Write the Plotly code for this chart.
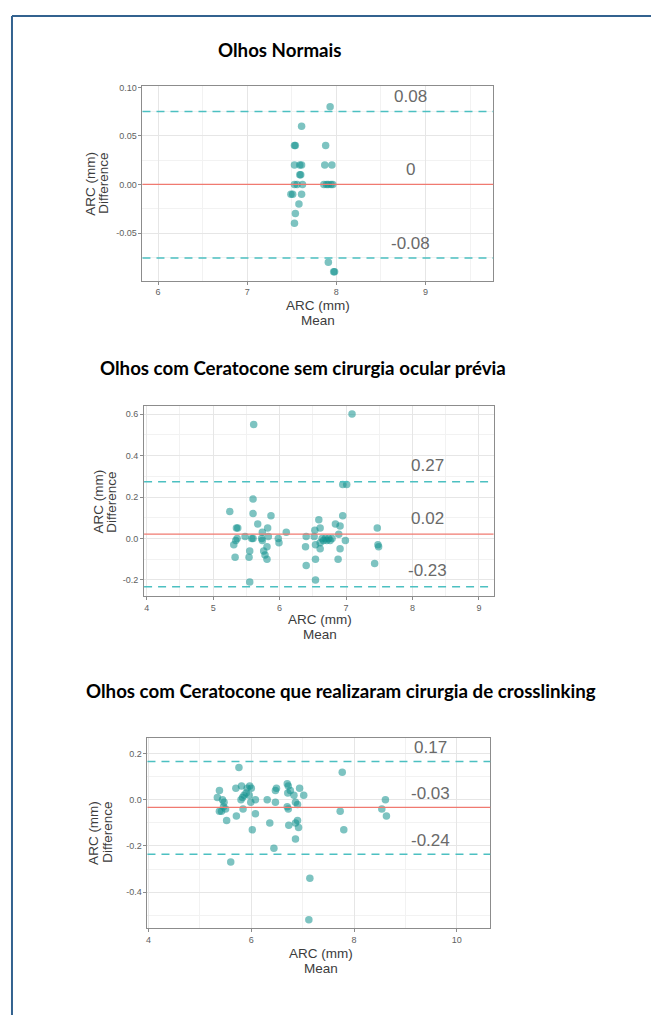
import plotly.graph_objects as go

W, H = 651, 1015

# ---------------- data ----------------
# Panel 1: Olhos Normais
p1_title = "Olhos Normais"
p1_mean = [7.93, 7.61, 7.53, 7.54, 7.88, 7.53, 7.59, 7.61, 7.87, 7.95,
           7.59, 7.60, 7.53, 7.56, 7.62, 7.86, 7.89, 7.91, 7.94, 7.96,
           7.49, 7.51, 7.61, 7.58, 7.54, 7.53, 7.91, 7.97, 7.98]
p1_diff = [0.08, 0.06, 0.04, 0.04, 0.04, 0.02, 0.02, 0.02, 0.02, 0.02,
           0.01, 0.01, 0.00, 0.00, 0.00, 0.00, 0.00, 0.00, 0.00, 0.00,
           -0.01, -0.01, -0.01, -0.02, -0.03, -0.04, -0.08, -0.09, -0.09]
p1_lines = [0.0752, 0.0, -0.0758]
p1_line_labels = ["0.08", "0", "-0.08"]
p1_xticks = [6, 7, 8, 9]
p1_yticks = [-0.05, 0.0, 0.05, 0.10]
p1_ytick_text = ["-0.05", "0.00", "0.05", "0.10"]

# Panel 2: Olhos com Ceratocone sem cirurgia ocular prévia
p2_title = "Olhos com Ceratocone sem cirurgia ocular prévia"
p2_mean = [5.61, 5.60, 5.25, 5.60, 5.87, 5.67, 5.35, 5.37, 5.82, 5.74,
           6.10, 5.48, 5.36, 5.58, 5.60, 5.73, 5.83, 5.74, 5.98, 5.99,
           5.31, 5.81, 5.55, 5.76, 5.33, 5.54, 5.78, 5.81, 5.55, 5.34,
           7.09, 6.95, 7.01, 6.59, 6.95, 6.53, 6.61, 6.84, 6.91, 7.47,
           6.40, 6.52, 6.89, 6.64, 6.69, 6.74, 6.79, 6.61, 6.99, 6.39,
           6.54, 6.66, 6.91, 7.48, 7.49, 6.54, 6.88, 6.40, 7.43, 6.54,
           6.61, 6.71, 6.76]
p2_diff = [0.55, 0.19, 0.13, 0.12, 0.11, 0.07, 0.05, 0.05, 0.05, 0.03,
           0.03, 0.01, 0.00, 0.00, 0.00, 0.00, 0.01, -0.01, 0.00, -0.02,
           -0.03, -0.04, -0.06, -0.06, -0.09, -0.09, -0.08, -0.10, -0.21, -0.01,
           0.60, 0.26, 0.26, 0.09, 0.11, 0.04, 0.05, 0.07, 0.06, 0.05,
           0.01, 0.01, 0.02, 0.00, 0.00, 0.00, 0.00, -0.02, -0.01, -0.04,
           -0.03, -0.01, -0.05, -0.03, -0.04, -0.10, -0.10, -0.13, -0.12, -0.20,
           -0.05, -0.01, -0.01]
p2_lines = [0.274, 0.021, -0.233]
p2_line_labels = ["0.27", "0.02", "-0.23"]
p2_xticks = [4, 5, 6, 7, 8, 9]
p2_yticks = [-0.2, 0.0, 0.2, 0.4, 0.6]
p2_ytick_text = ["-0.2", "0.0", "0.2", "0.4", "0.6"]

# Panel 3: Olhos com Ceratocone que realizaram cirurgia de crosslinking
p3_title = "Olhos com Ceratocone que realizaram cirurgia de crosslinking"
p3_mean = [5.76, 5.38, 5.34, 5.44, 5.47, 5.46, 5.50, 5.38, 5.52, 5.60,
           5.71, 5.70, 5.81, 5.83, 5.86, 5.92, 5.97, 6.00, 5.96, 5.90,
           6.08, 5.84, 5.99, 6.08, 6.02, 6.31, 6.36, 6.47, 6.49, 6.47,
           6.44, 6.70, 6.72, 6.71, 6.76, 6.83, 6.70, 6.72, 6.86, 6.94,
           7.02, 6.90, 6.73, 6.86, 6.90, 6.92, 6.86, 7.14, 7.12, 7.77,
           7.73, 7.80, 8.61, 8.54, 8.63, 5.80, 5.42]
p3_diff = [0.14, 0.04, 0.01, 0.00, -0.01, -0.03, -0.04, -0.05, -0.09, -0.27,
           -0.07, 0.05, 0.06, 0.01, 0.02, 0.05, 0.06, 0.05, 0.02, 0.03,
           0.00, -0.04, -0.01, -0.06, -0.13, 0.00, -0.10, 0.04, 0.05, -0.01,
           -0.21, 0.07, 0.06, 0.03, 0.04, 0.02, -0.03, -0.04, -0.01, 0.05,
           0.02, -0.02, -0.11, -0.10, -0.09, -0.12, -0.17, -0.34, -0.52, 0.12,
           -0.05, -0.13, 0.00, -0.04, -0.07, 0.00, -0.05]
p3_lines = [0.166, -0.033, -0.236]
p3_line_labels = ["0.17", "-0.03", "-0.24"]
p3_xticks = [4, 6, 8, 10]
p3_yticks = [-0.4, -0.2, 0.0, 0.2]
p3_ytick_text = ["-0.4", "-0.2", "0.0", "0.2"]

x_title_lines = ["ARC (mm)", "Mean"]
y_title_lines = ["ARC (mm)", "Difference"]

# ---------------- styling / layout ----------------
PT_COLOR = "#12928e"
LOA_COLOR = "#4cc0c1"
BIAS_COLOR = "#f07a70"
FRAME_COLOR = "#8c8c8c"
GRID_MAJOR = "#e6e6e6"
GRID_MINOR = "#f2f2f2"
TICK_FONT = dict(family="Liberation Sans, Arial", size=9, color="#5e5e5e")
AX_TITLE_FONT = dict(family="Liberation Sans, Arial", size=13.5, color="#3c3c3c")
LBL_FONT = dict(family="Liberation Sans, Arial", size=17, color="#6a6a6a")
TITLE_FONT = dict(family="Lato, Open Sans, sans-serif", size=18.7, color="#000000")


def px_x(px):
    return px / W


def px_y(py):
    return 1 - py / H


panels = [
    dict(title=p1_title, mean=p1_mean, diff=p1_diff, lines=p1_lines,
         labels=p1_line_labels, xticks=p1_xticks, yticks=p1_yticks,
         ytext=p1_ytick_text, xminor=[6.5, 7.5, 8.5, 9.5],
         yminor=[-0.075, -0.025, 0.025, 0.075],
         box=(141.7, 82.7, 493.0, 277.7), xr=[5.825, 9.76], yr=[-0.099, 0.101],
         label_x=8.83, label_shift=15, title_xy=(279, 46),
         xt=(317, 302.5, 317.5), yt=(89.5, 102.7, 180)),
    dict(title=p2_title, mean=p2_mean, diff=p2_diff, lines=p2_lines,
         labels=p2_line_labels, xticks=p2_xticks, yticks=p2_yticks,
         ytext=p2_ytick_text, xminor=[4.5, 5.5, 6.5, 7.5, 8.5],
         yminor=[-0.1, 0.1, 0.3, 0.5],
         box=(143.3, 403.3, 493.3, 594.3), xr=[3.96, 9.22], yr=[-0.277, 0.640],
         label_x=8.23, label_shift=16, title_xy=(302, 365),
         xt=(319, 618.3, 633.3), yt=(96.7, 110, 500)),
    dict(title=p3_title, mean=p3_mean, diff=p3_diff, lines=p3_lines,
         labels=p3_line_labels, xticks=p3_xticks, yticks=p3_yticks,
         ytext=p3_ytick_text, xminor=[5, 7, 9],
         yminor=[-0.5, -0.3, -0.1, 0.1],
         box=(146.7, 736.7, 490.0, 927.7), xr=[3.98, 10.65], yr=[-0.556, 0.269],
         label_x=9.48, label_shift=14, title_xy=(341, 690),
         xt=(320, 953, 968), yt=(93.3, 107.3, 832)),
]

fig = go.Figure()
layout = dict(width=W, height=H, margin=dict(l=0, r=0, t=0, b=0),
              paper_bgcolor="white", plot_bgcolor="white", showlegend=False)
annotations = []
shapes = []

for i, p in enumerate(panels, start=1):
    sfx = "" if i == 1 else str(i)
    xa, ya = "x" + sfx, "y" + sfx
    l, t, r, b = p["box"]
    layout["xaxis" + sfx] = dict(
        domain=[px_x(l), px_x(r)], range=p["xr"], anchor=ya,
        tickvals=p["xticks"], ticktext=[str(v) for v in p["xticks"]],
        showgrid=True, gridcolor=GRID_MAJOR, gridwidth=1,
        minor=dict(tickvals=p["xminor"], showgrid=True, gridcolor=GRID_MINOR,
                   gridwidth=0.6, ticks=""),
        showline=True, mirror=True, linecolor=FRAME_COLOR, linewidth=1,
        ticks="outside", ticklen=3, tickcolor=FRAME_COLOR, tickwidth=1,
        tickfont=TICK_FONT, zeroline=False, fixedrange=True)
    layout["yaxis" + sfx] = dict(
        domain=[px_y(b), px_y(t)], range=p["yr"], anchor=xa,
        tickvals=p["yticks"], ticktext=p["ytext"],
        showgrid=True, gridcolor=GRID_MAJOR, gridwidth=1,
        minor=dict(tickvals=p["yminor"], showgrid=True, gridcolor=GRID_MINOR,
                   gridwidth=0.6, ticks=""),
        showline=True, mirror=True, linecolor=FRAME_COLOR, linewidth=1,
        ticks="outside", ticklen=3, tickcolor=FRAME_COLOR, tickwidth=1,
        tickfont=TICK_FONT, zeroline=False, fixedrange=True)

    # limits of agreement and bias
    for k, v in enumerate(p["lines"]):
        if k == 1:
            line = dict(color=BIAS_COLOR, width=1.3)
        else:
            line = dict(color=LOA_COLOR, width=1.5, dash="8px,6px")
        shapes.append(dict(type="line", xref=xa + " domain", x0=0, x1=1,
                           yref=ya, y0=v, y1=v, line=line, layer="above"))
        annotations.append(dict(x=p["label_x"], y=v, xref=xa, yref=ya,
                                text=p["labels"][k], showarrow=False,
                                yshift=p["label_shift"], font=LBL_FONT,
                                xanchor="center", yanchor="middle"))

    fig.add_trace(go.Scatter(
        x=p["mean"], y=p["diff"], mode="markers", xaxis=xa, yaxis=ya,
        marker=dict(size=7.5, color=PT_COLOR, opacity=0.55,
                    line=dict(width=0)),
        hoverinfo="x+y"))

    # panel title
    tx, ty = p["title_xy"]
    annotations.append(dict(x=px_x(tx), y=px_y(ty), xref="paper", yref="paper",
                            text="<b>" + p["title"] + "</b>", showarrow=False,
                            font=TITLE_FONT, xanchor="center", yanchor="middle"))
    # x axis title (two lines)
    cx, y1, y2 = p["xt"]
    for txt, yy in zip(x_title_lines, (y1, y2)):
        annotations.append(dict(x=px_x(cx), y=px_y(yy), xref="paper", yref="paper",
                                text=txt, showarrow=False, font=AX_TITLE_FONT,
                                xanchor="center", yanchor="middle"))
    # y axis title (two rotated lines)
    x1, x2, cy = p["yt"]
    for txt, xx in zip(y_title_lines, (x1, x2)):
        annotations.append(dict(x=px_x(xx), y=px_y(cy), xref="paper", yref="paper",
                                text=txt, showarrow=False, font=AX_TITLE_FONT,
                                textangle=-90, xanchor="center", yanchor="middle"))

# outer document frame (top and left edges)
FRAME_BLUE = "#33628f"
shapes.append(dict(type="line", xref="paper", yref="paper",
                   x0=px_x(11), x1=1, y0=px_y(12), y1=px_y(12),
                   line=dict(color=FRAME_BLUE, width=2)))
shapes.append(dict(type="line", xref="paper", yref="paper",
                   x0=px_x(11), x1=px_x(11), y0=0, y1=px_y(12),
                   line=dict(color=FRAME_BLUE, width=2)))

layout["annotations"] = annotations
layout["shapes"] = shapes
fig.update_layout(**layout)
fig.write_html(
    "out.html",
    config={"displayModeBar": False, "staticPlot": False},
    post_script="document.body.style.margin='0';"
                "document.body.style.padding='0';"
                "document.body.style.overflow='hidden';",
)
